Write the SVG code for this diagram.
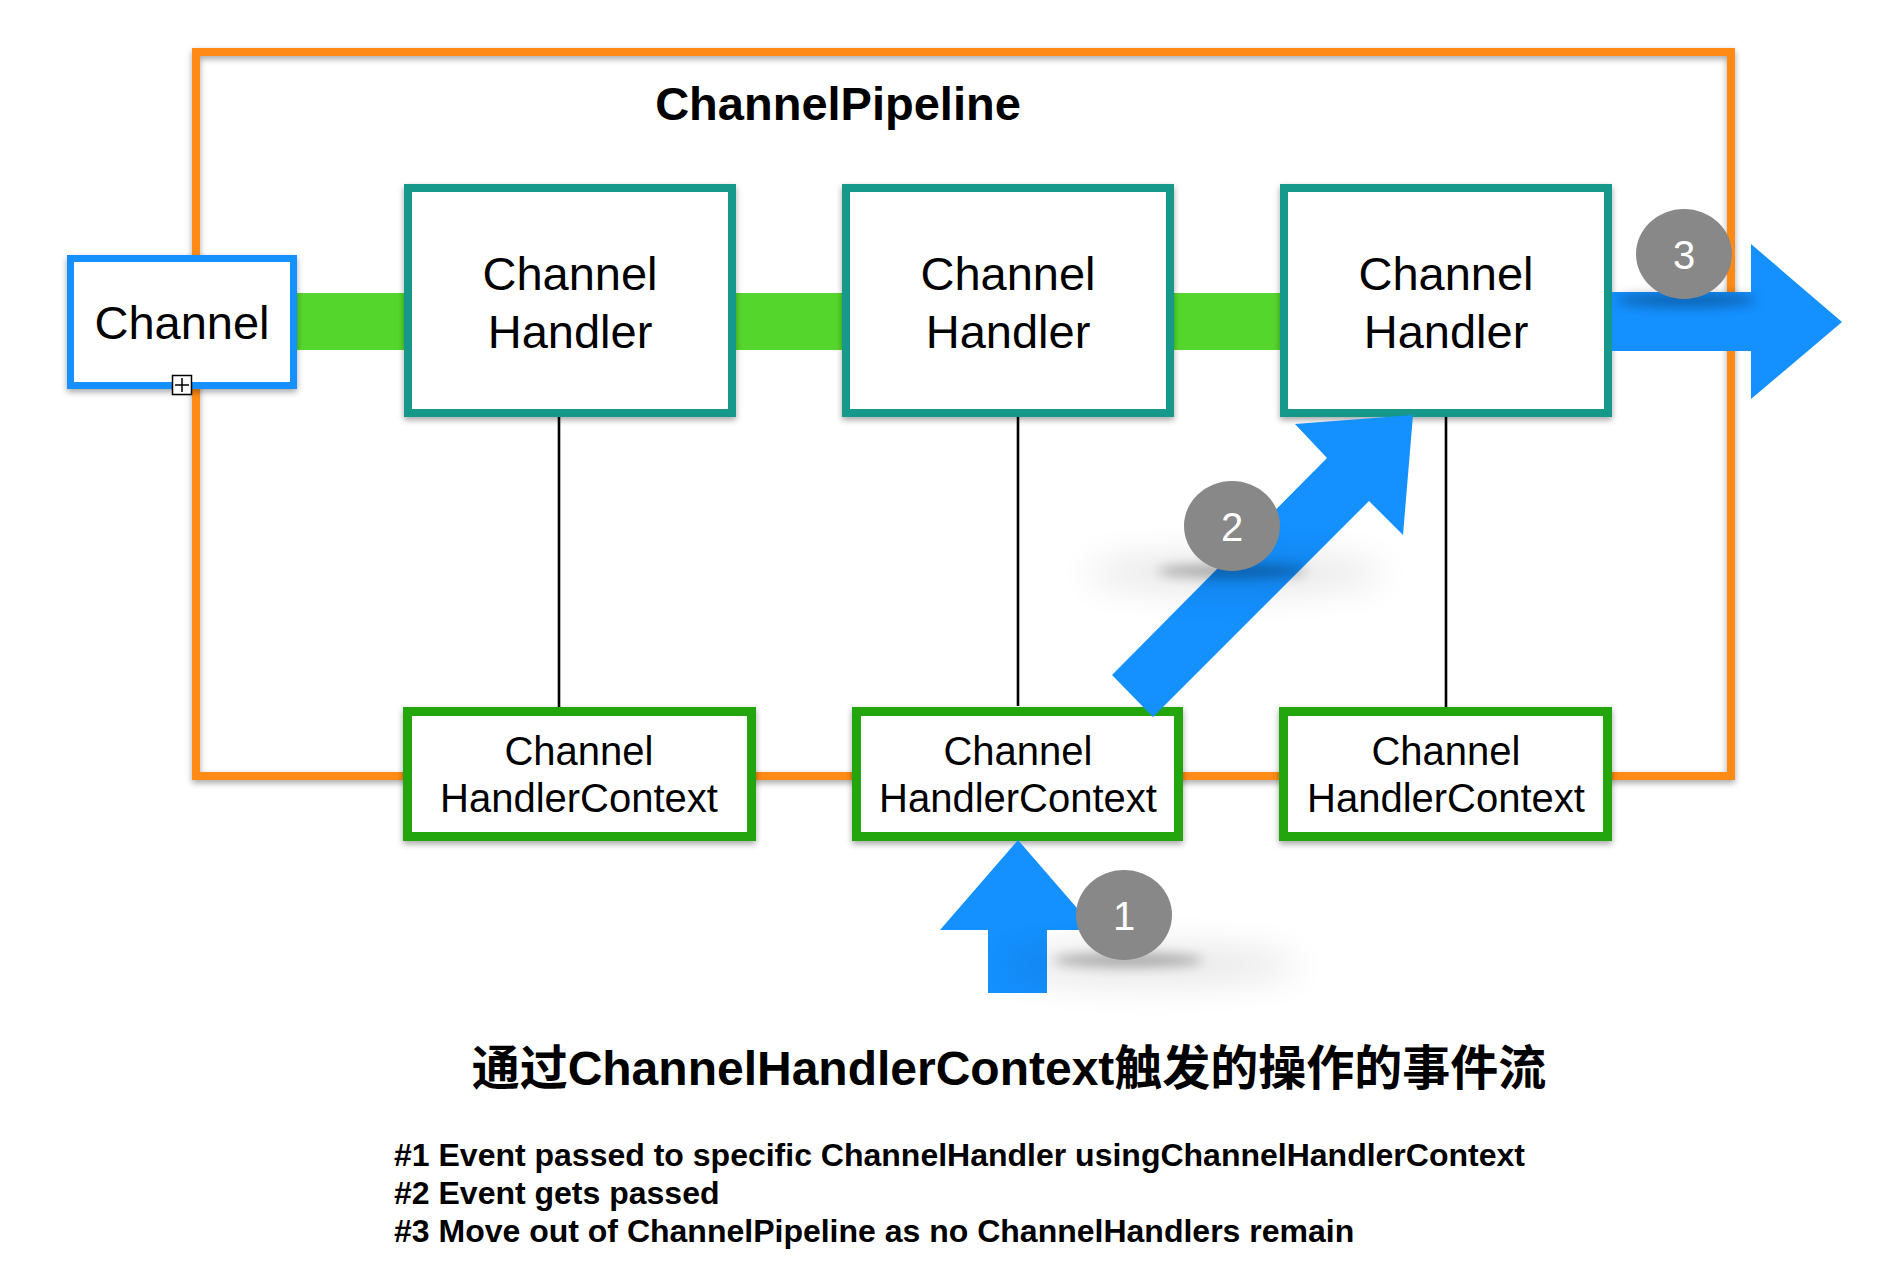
<svg xmlns="http://www.w3.org/2000/svg" width="1902" height="1280" viewBox="0 0 1902 1280">
<style>
.lbl{font-family:"Liberation Sans","Noto Sans CJK SC",sans-serif;fill:#000;text-anchor:middle}
.h{font-size:47px}
.c{font-size:40px}
.num{font-family:"Liberation Sans",sans-serif;font-size:40px;fill:#fff;text-anchor:middle}
.note{font-family:"Liberation Sans",sans-serif;font-size:32px;font-weight:bold;fill:#000}
.handler{fill:#fff;stroke:#18998A;stroke-width:8}
.ctx{fill:#fff;stroke:#22A50A;stroke-width:9}
.bar{fill:#55D62D}
.vline{stroke:#000;stroke-width:2.6}
.arrow{fill:#1490FF}
.badge{fill:#888888}
</style>
<defs>
<filter id="sh" x="-10%" y="-10%" width="120%" height="130%">
<feDropShadow dx="0" dy="3" stdDeviation="3" flood-color="#000" flood-opacity="0.35"/>
</filter>
<filter id="blur" x="-50%" y="-200%" width="200%" height="500%">
<feGaussianBlur stdDeviation="6"/>
</filter>
<filter id="blur2" x="-50%" y="-200%" width="200%" height="500%">
<feGaussianBlur stdDeviation="18"/>
</filter>
</defs>
<rect width="1902" height="1280" fill="#fff"/>

<g id="pipeline">
<rect x="196" y="52" width="1535" height="724" fill="none" stroke="#FF8A12" stroke-width="8" filter="url(#sh)"/>
<text class="lbl" x="838" y="120" font-size="47" font-weight="bold">ChannelPipeline</text>
</g>

<g id="connectors">
<rect class="bar" x="290" y="293" width="120" height="57"/>
<rect class="bar" x="730" y="293" width="118" height="57"/>
<rect class="bar" x="1168" y="293" width="118" height="57"/>
<line class="vline" x1="559" y1="417" x2="559" y2="707"/>
<line class="vline" x1="1018" y1="417" x2="1018" y2="706"/>
<line class="vline" x1="1446" y1="417" x2="1446" y2="707"/>
</g>

<g id="channel">
<rect x="70.5" y="258.5" width="223" height="127" fill="#fff" stroke="#1490FF" stroke-width="7" filter="url(#sh)"/>
<text class="lbl h" x="182" y="339">Channel</text>
<rect x="172.5" y="375.5" width="19" height="19" fill="#fff" stroke="#000" stroke-width="1.5"/>
<line x1="175" y1="385" x2="189" y2="385" stroke="#000" stroke-width="1.5"/>
<line x1="182" y1="378" x2="182" y2="392" stroke="#000" stroke-width="1.5"/>
</g>

<g id="handler1">
<rect class="handler" x="408" y="188" width="324" height="225" filter="url(#sh)"/>
<text class="lbl h" x="570" y="290">Channel</text>
<text class="lbl h" x="570" y="348">Handler</text>
</g>
<g id="handler2">
<rect class="handler" x="846" y="188" width="324" height="225" filter="url(#sh)"/>
<text class="lbl h" x="1008" y="290">Channel</text>
<text class="lbl h" x="1008" y="348">Handler</text>
</g>
<g id="handler3">
<rect class="handler" x="1284" y="188" width="324" height="225" filter="url(#sh)"/>
<text class="lbl h" x="1446" y="290">Channel</text>
<text class="lbl h" x="1446" y="348">Handler</text>
</g>

<g id="context1">
<rect class="ctx" x="407.5" y="711.5" width="344" height="125" filter="url(#sh)"/>
<text class="lbl c" x="579" y="765">Channel</text>
<text class="lbl c" x="579" y="812">HandlerContext</text>
</g>
<g id="context2">
<rect class="ctx" x="856.5" y="711.5" width="322" height="125" filter="url(#sh)"/>
<text class="lbl c" x="1018" y="765">Channel</text>
<text class="lbl c" x="1018" y="812">HandlerContext</text>
</g>
<g id="context3">
<rect class="ctx" x="1283.5" y="711.5" width="324" height="125" filter="url(#sh)"/>
<text class="lbl c" x="1446" y="765">Channel</text>
<text class="lbl c" x="1446" y="812">HandlerContext</text>
</g>

<g id="arrows">
<polygon class="arrow" points="1612,292 1751,292 1751,244 1842,322 1751,399 1751,351 1612,351"/>
<polygon class="arrow" points="1112,675 1327,458 1295,424 1413,415 1403,535 1369,501 1153,717"/>
<polygon class="arrow" points="1018,840 1096,930 1047,930 1047,993 988,993 988,930 940,930"/>
</g>

<g id="badge3">
<ellipse cx="1686" cy="300" rx="70" ry="7" fill="#000" opacity="0.3" filter="url(#blur)"/>
<ellipse cx="1684" cy="254" rx="48" ry="45" class="badge"/>
<text class="num" x="1684" y="269">3</text>
</g>
<g id="badge2">
<ellipse cx="1235" cy="573" rx="150" ry="18" fill="#000" opacity="0.1" filter="url(#blur2)"/>
<ellipse cx="1232" cy="571" rx="75" ry="7" fill="#000" opacity="0.28" filter="url(#blur)"/>
<ellipse cx="1232" cy="526" rx="48" ry="45" class="badge"/>
<text class="num" x="1232" y="541">2</text>
</g>
<g id="badge1">
<ellipse cx="1150" cy="965" rx="150" ry="18" fill="#000" opacity="0.1" filter="url(#blur2)"/>
<ellipse cx="1128" cy="960" rx="75" ry="7" fill="#000" opacity="0.28" filter="url(#blur)"/>
<ellipse cx="1124" cy="915" rx="48" ry="45" class="badge"/>
<text class="num" x="1124" y="930">1</text>
</g>

<g id="caption">
<text class="lbl" x="1009" y="1085" font-size="48" font-weight="bold">通过ChannelHandlerContext触发的操作的事件流</text>
<text class="note" x="394" y="1166">#1 Event passed to specific ChannelHandler usingChannelHandlerContext</text>
<text class="note" x="394" y="1204">#2 Event gets passed</text>
<text class="note" x="394" y="1242">#3 Move out of ChannelPipeline as no ChannelHandlers remain</text>
</g>
</svg>
